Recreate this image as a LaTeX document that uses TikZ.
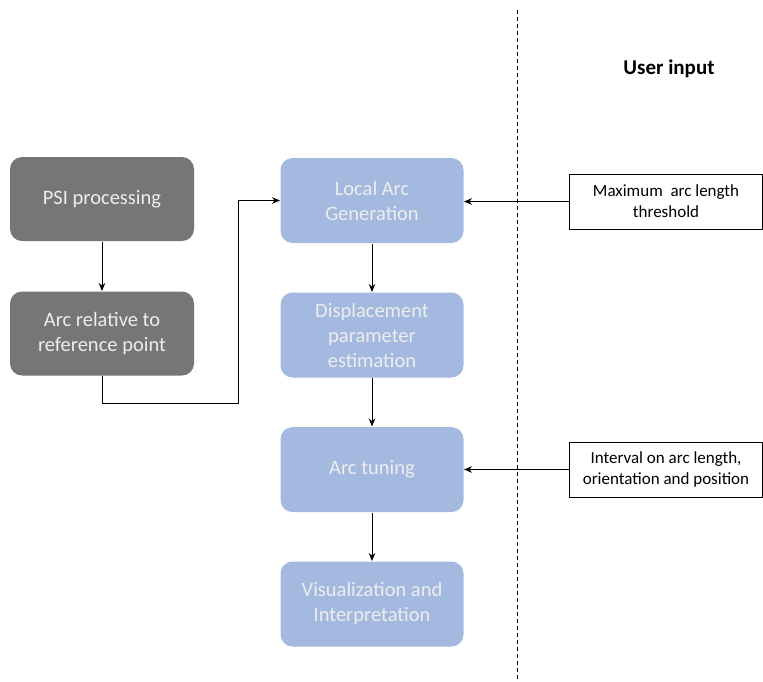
\documentclass[tikz,border=0pt]{standalone}
\usepackage{fontspec}
\setmainfont{Carlito}
\usetikzlibrary{arrows.meta,positioning}
\definecolor{psigray}{HTML}{767676}
\definecolor{arcblue}{HTML}{A3B9E0}

\begin{document}
\begin{tikzpicture}[%
            x=1pt, y=-1pt,
            >={Stealth[length=8pt,width=6.5pt]},
            line width=1pt,
            node distance=134.5pt,
            on grid,
            psibox/.style={rectangle, rounded corners=12pt, fill=psigray,
              text=white!93!black, minimum width=184pt, minimum height=84pt,
              inner sep=2pt, align=center, font=\fontsize{20.5}{25}\selectfont},
            arcbox/.style={psibox, fill=arcblue, minimum width=183pt, minimum height=85pt},
            inputbox/.style={rectangle, draw, minimum width=193pt, minimum height=55pt,
              inner sep=2pt, align=center, font=\fontsize{17}{21}\selectfont}
            ]
            \useasboundingbox (0,0) rectangle (763,681);

            \node[psibox] (psi) at (102,199) {PSI processing};
            \node[psibox] (rel) [below=of psi] {Arc relative to\\reference point};

            \node[arcbox] (local) at (372,200.5) {Local Arc\\Generation};
            \node[arcbox] (disp) [below=of local] {Displacement\\parameter\\estimation};
            \node[arcbox] (tune) [below=of disp] {Arc tuning};
            \node[arcbox] (vis) [below=of tune] {Visualization and\\Interpretation};

            \node[font=\bfseries\fontsize{21}{25}\selectfont] (user) at (669,69) {User input};
            \node[inputbox] (maxlen) at (666,201.5) {Maximum~~arc length\\threshold};
            \node[inputbox] (interval) at (666,469.5) {Interval on arc length,\\orientation and position};

            % separator
            \coordinate (septop) at (517,10);
            \coordinate (sepbot) at (517,681);
            \draw[dashed, line width=0.8pt, dash pattern=on 4pt off 3pt] (septop) -- (sepbot);

            \coordinate (bend) at (238,403);
            \path[->] (psi) edge (rel);
            \draw[->] (rel.south) |- (bend) |- (local.west);
            \path[->] (local) edge (disp);
            \path[->] (disp) edge (tune);
            \path[->] (tune) edge (vis);
            \draw[->] (maxlen.west) -- (maxlen.west -| local.east);
            \draw[->] (interval.west) -- (interval.west -| tune.east);
        \end{tikzpicture}
\end{document}
